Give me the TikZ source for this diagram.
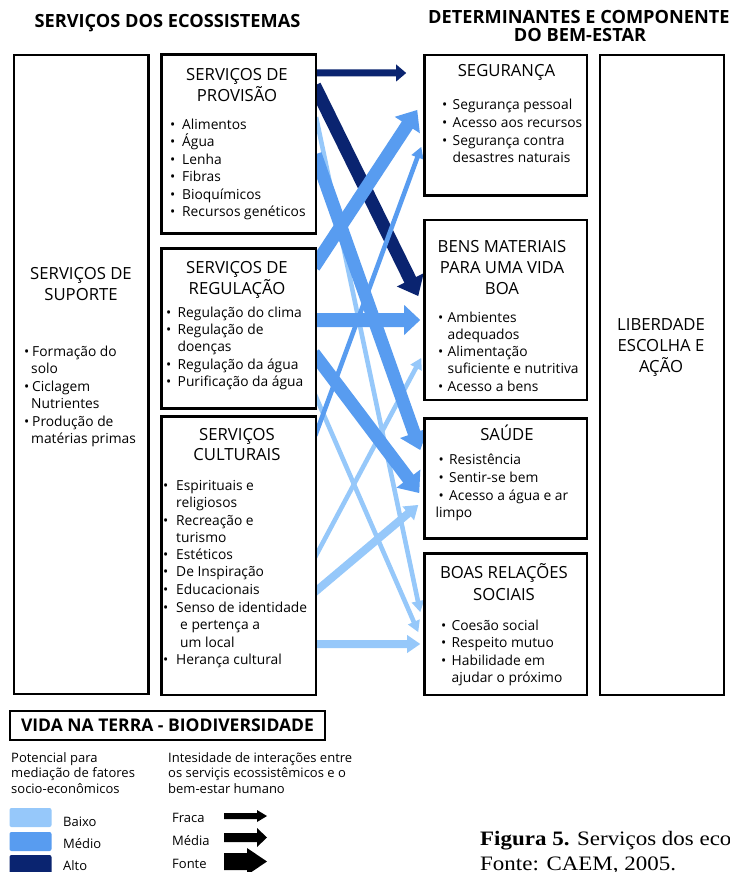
\documentclass[tikz,border=0pt]{standalone}
\usepackage{fontspec}
\setmainfont{Open Sans}
\newfontfamily\capfont{Liberation Serif}
\usetikzlibrary{calc}
\definecolor{lightb}{RGB}{150,200,250}
\definecolor{medb}{RGB}{88,156,240}
\definecolor{darkb}{RGB}{10,36,112}
\pgfdeclarelayer{back}
\pgfdeclarelayer{arrows}
\pgfsetlayers{back,arrows,main}
% block arrow: colour, half shaft, half head, head length, start, end
\newcommand\barrow[6]{%
 \path ($(#5)!-6pt!(#6)$) coordinate (aa) (#6) coordinate (bb);
 \path ($(bb)!#4!(aa)$) coordinate (cc);
 \fill[#1] ($(aa)!#2!90:(bb)$) -- ($(cc)!#2!-90:(aa)$) -- ($(cc)!#3!-90:(aa)$) -- (bb)
   -- ($(cc)!#3!90:(aa)$) -- ($(cc)!#2!90:(aa)$) -- ($(aa)!#2!-90:(bb)$) -- cycle;}
\newcommand\TC[3]{\node[ttl] at (#1,#2) {#3};}
\newcommand\TL[3]{\node[lst] at (#1,#2) {#3};}
\newcommand\BL[4]{\node[lst] at (#1,#3) {•}; \node[lst] at (#2,#3) {#4};}
\tikzset{
 box/.style={draw=black, fill=white, line width=2.6pt, inner sep=0pt},
 ttl/.style={font=\fontsize{16.7}{20}\selectfont, anchor=base, inner sep=0pt},
 lst/.style={font=\fontsize{13.8}{17}\selectfont, anchor=base west, inner sep=0pt},
 hdr/.style={font=\fontsize{18.2}{20}\selectfont\bfseries, inner sep=0pt},
 leg/.style={font=\fontsize{13}{15.5}\selectfont, anchor=base west, inner sep=0pt},
 sw/.style={rounded corners=2pt, minimum width=42, minimum height=19, inner sep=0pt},
 captxt/.style={anchor=base west, inner sep=0pt, font=\capfont\fontsize{20.5}{25}\selectfont},
}
\begin{document}
\begin{tikzpicture}[x=1pt,y=-1pt]
\begin{pgfonlayer}{back}
\fill[white] (0,0) rectangle (730,872);
\end{pgfonlayer}
\useasboundingbox (0,0) rectangle (730,872);

% headers
\node[hdr, anchor=base] (h1) at (167.5,28) {SERVIÇOS DOS ECOSSISTEMAS};
\node[hdr, anchor=base west] (h2) at (428,24) {DETERMINANTES E COMPONENTES};
\node[hdr, anchor=base] (h3) at (580,42) {DO BEM-ESTAR};

% boxes
\node[box, minimum width=134.5, minimum height=639] (sup) at (81.25,374.5) {};
\node[box, minimum width=154.5, minimum height=179] (prov) at (238.75,144) {};
\node[box, minimum width=154.5, minimum height=160] (reg) at (238.75,328.5) {};
\node[box, minimum width=154.5, minimum height=278.5] (cult) at (238.75,555.75) {};
\node[box, minimum width=162.5, minimum height=140.5] (seg) at (505.75,125.25) {};
\node[box, minimum width=162.5, minimum height=180] (bens) at (505.75,310) {};
\node[box, minimum width=162.5, minimum height=120] (saude) at (505.75,478.5) {};
\node[box, minimum width=162.5, minimum height=141.5] (boas) at (505.75,624.25) {};
\node[box, minimum width=124, minimum height=640] (lib) at (662,375) {};

% arrow end points
\coordinate (s1) at (prov.east |- 0,73);   \coordinate (e1) at ($(seg.west |- 0,73)+(-17,0)$);
\coordinate (s2) at (prov.east |- 0,91);   \coordinate (e2) at ($(bens.west |- 0,296)+(-5,0)$);
\coordinate (s3) at (reg.east |- 0,262);   \coordinate (e3) at ($(seg.west |- 0,110)+(-6,0)$);
\coordinate (s4) at (cult.east |- 0,430);  \coordinate (e4) at ($(seg.west |- 0,147)+(-2,0)$);
\coordinate (s5) at (reg.east |- 0,320);   \coordinate (e5) at ($(bens.west |- 0,320)+(-3,0)$);
\coordinate (s6) at (prov.east |- 0,160);  \coordinate (e6) at ($(saude.west |- 0,450)+(-3,0)$);
\coordinate (s7) at (reg.east |- 0,358);   \coordinate (e7) at ($(saude.west |- 0,493)+(-4,0)$);
\coordinate (s8) at (prov.east |- 0,123);  \coordinate (e8) at ($(boas.west |- 0,612)+(-3,0)$);
\coordinate (s9) at (reg.east |- 0,400);   \coordinate (e9) at ($(boas.west |- 0,632)+(-5,0)$);
\coordinate (s10) at (cult.east |- 0,553); \coordinate (e10) at ($(bens.west |- 0,358)+(-2,0)$);
\coordinate (s11) at (cult.east |- 0,590); \coordinate (e11) at ($(saude.west |- 0,505)+(-5,0)$);
\coordinate (s12) at (cult.east |- 0,644); \coordinate (e12) at ($(boas.west |- 0,644)+(-3,0)$);

\begin{pgfonlayer}{arrows}
\barrow{lightb}{2.3pt}{6.5pt}{11pt}{s8}{e8}
\barrow{lightb}{2.3pt}{6.5pt}{11pt}{s9}{e9}
\barrow{lightb}{2.3pt}{6.5pt}{11pt}{s10}{e10}
\barrow{lightb}{4pt}{9pt}{13pt}{s11}{e11}
\barrow{lightb}{4pt}{9pt}{13pt}{s12}{e12}
\barrow{darkb}{3.5pt}{8.5pt}{10pt}{s1}{e1}
\barrow{darkb}{6.5pt}{15pt}{18pt}{s2}{e2}
\barrow{medb}{2.3pt}{6.5pt}{11pt}{s4}{e4}
\barrow{medb}{6.5pt}{15pt}{18pt}{s3}{e3}
\barrow{medb}{7pt}{15pt}{16pt}{s5}{e5}
\barrow{medb}{6.5pt}{15pt}{18pt}{s6}{e6}
\barrow{medb}{6.5pt}{15pt}{18pt}{s7}{e7}
\end{pgfonlayer}

% Suporte
\TC{81}{279}{SERVIÇOS DE}
\TC{81}{300}{SUPORTE}
\BL{24}{32}{356}{Formação do}
\TL{31}{373}{solo}
\BL{24}{32}{391}{Ciclagem}
\TL{31}{408}{Nutrientes}
\BL{24}{32}{426}{Produção de}
\TL{31}{443}{matérias primas}

% Provisao
\TC{237}{81}{SERVIÇOS DE}
\TC{237}{101.5}{PROVISÃO}
\BL{170}{182}{129.3}{Alimentos}
\BL{170}{182}{146.8}{Água}
\BL{170}{182}{164.3}{Lenha}
\BL{170}{182}{181.8}{Fibras}
\BL{170}{182}{199.3}{Bioquímicos}
\BL{170}{182}{216.8}{Recursos genéticos}

% Regulacao
\TC{237}{273.5}{SERVIÇOS DE}
\TC{237}{294}{REGULAÇÃO}
\BL{166}{177.5}{317}{Regulação do clima}
\BL{166}{177.5}{334.3}{Regulação de}
\TL{177.5}{351.6}{doenças}
\BL{166}{177.5}{369}{Regulação da água}
\BL{166}{177.5}{386.5}{Purificação da água}

% Culturais
\TC{237}{440}{SERVIÇOS}
\TC{237}{460.5}{CULTURAIS}
\BL{163}{176}{490.7}{Espirituais e}
\TL{176}{507.5}{religiosos}
\BL{163}{176}{525}{Recreação e}
\TL{176}{542}{turismo}
\BL{163}{176}{559.3}{Estéticos}
\BL{163}{176}{576.8}{De Inspiração}
\BL{163}{176}{594.3}{Educacionais}
\BL{163}{176}{612}{Senso de identidade}
\TL{180}{629.5}{e pertença a}
\TL{180}{647}{um local}
\BL{163}{176}{664.5}{Herança cultural}

% Seguranca
\TC{506.5}{77}{SEGURANÇA}
\BL{442}{452.5}{110}{Segurança pessoal}
\BL{442}{452.5}{127.5}{Acesso aos recursos}
\BL{442}{452.5}{145}{Segurança contra}
\TL{452.5}{162}{desastres naturais}

% Bens
\TC{502}{252}{BENS MATERIAIS}
\TC{502}{273.5}{PARA UMA VIDA}
\TC{502}{294.5}{BOA}
\BL{438}{447.5}{322}{Ambientes}
\TL{447.5}{339}{adequados}
\BL{438}{447.5}{356.7}{Alimentação}
\TL{447.5}{373.5}{suficiente e nutritiva}
\BL{438}{447.5}{391.5}{Acesso a bens}

% Saude
\TC{507}{440}{SAÚDE}
\BL{438.5}{449}{464}{Resistência}
\BL{438.5}{449}{482}{Sentir-se bem}
\BL{438.5}{449}{500}{Acesso a água e ar}
\TL{435.5}{517}{limpo}

% Boas relacoes
\TC{504}{578.5}{BOAS RELAÇÕES}
\TC{504}{600}{SOCIAIS}
\BL{441}{451.5}{630}{Coesão social}
\BL{441}{451.5}{647.5}{Respeito mutuo}
\BL{441}{451.5}{665}{Habilidade em}
\TL{451.5}{682}{ajudar o próximo}

% Liberdade
\TC{661}{330}{LIBERDADE}
\TC{661}{351.5}{ESCOLHA E}
\TC{661}{372}{AÇÃO}

% legend
\node[draw=black, line width=1.3pt, minimum width=315, minimum height=29, inner sep=0pt,
      font=\fontsize{17.5}{20}\selectfont\bfseries] (vida) at (167.5,725.5) {VIDA NA TERRA - BIODIVERSIDADE};
\node[leg] (p1) at (11,762) {Potencial para};
\node[leg] (p2) at (11,777.5) {mediação de fatores};
\node[leg] (p3) at (11,793) {socio-econômicos};
\node[leg] (i1) at (168,762) {Intesidade de interações entre};
\node[leg] (i2) at (168,777.5) {os serviçis ecossistêmicos e o};
\node[leg] (i3) at (168,793) {bem-estar humano};
\node[sw, fill=lightb] (sw1) at (30.5,817.5) {};
\node[sw, fill=medb] (sw2) at (30.5,841.5) {};
\node[sw, fill=darkb] (sw3) at (30.5,864.5) {};
\node[leg] (l1) at (63,826) {Baixo};
\node[leg] (l2) at (63,848.5) {Médio};
\node[leg] (l3) at (63,870) {Alto};
\node[leg] (f1) at (172,822.5) {Fraca};
\node[leg] (f2) at (172,845.5) {Média};
\node[leg] (f3) at (172,868) {Fonte};
\coordinate (a1s) at (230,816); \coordinate (a1e) at (267,816);
\coordinate (a2s) at (230,837.5); \coordinate (a2e) at (267,837.5);
\coordinate (a3s) at (230,861.5); \coordinate (a3e) at (267,861.5);
\barrow{black}{3pt}{6pt}{10pt}{a1s}{a1e}
\barrow{black}{4.5pt}{9.5pt}{10pt}{a2s}{a2e}
\barrow{black}{8.5pt}{13.5pt}{20pt}{a3s}{a3e}

% caption
\node[captxt] (cap1) at (480,845.5) {\scalebox{1.12}[1]{\textbf{Figura 5.} Serviços dos eco}};
\node[captxt] (cap2) at (480,870.5) {\scalebox{1.12}[1]{Fonte: CAEM, 2005.}};
\end{tikzpicture}
\end{document}
